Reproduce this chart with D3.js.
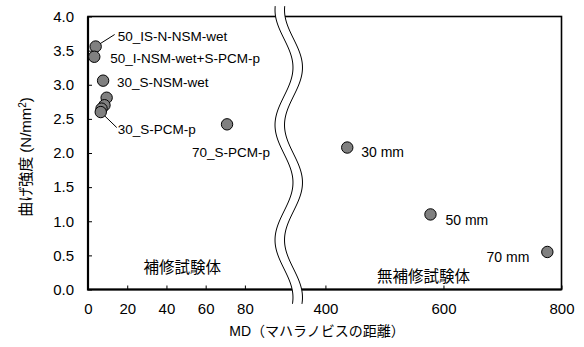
<!DOCTYPE html>
<html>
<head>
<meta charset="utf-8">
<script src="https://cdn.jsdelivr.net/npm/d3@7"></script>
<style>
  body { margin: 0; background: #fff; }
  svg text { font-family: "Liberation Sans", Arial, "Noto Sans CJK JP", sans-serif; fill: #000; }
</style>
</head>
<body>
<svg id="chart" width="584" height="347"></svg>
<script>
// 補修試験体 (repaired specimens)
const repairedMD = [3.9, 3.2, 7.7, 9.5, 8.4, 6.9, 6.5, 70.9];
const repairedStrength = [3.56, 3.41, 3.06, 2.81, 2.70, 2.65, 2.60, 2.42];
const repairedLabels = ["50_IS-N-NSM-wet", "50_I-NSM-wet+S-PCM-p", "30_S-NSM-wet", "", "", "", "30_S-PCM-p", "70_S-PCM-p"];

// 無補修試験体 (unrepaired specimens)
const unrepairedMD = [437, 578, 776];
const unrepairedStrength = [2.08, 1.10, 0.55];
const unrepairedLabels = ["30 mm", "50 mm", "70 mm"];

const xTicks = [0, 20, 40, 60, 80, 400, 600, 800];
const yTicks = [0, 0.5, 1, 1.5, 2, 2.5, 3, 3.5, 4];

const svg = d3.select("#chart");
const margin = {top: 16.5, right: 22.5, bottom: 57.5, left: 88};
const width = 584, height = 347;

// broken x axis: 0-103 on the left, 340-800 on the right
const x = d3.scaleLinear()
    .domain([0, 103, 340, 800])
    .range([margin.left, 290, 290, width - margin.right]);
const y = d3.scaleLinear()
    .domain([0, 4])
    .range([height - margin.bottom, margin.top]);

// label offsets (px) relative to the point
const repairedOffsets = [[22, -6], [16, 6], [14, 6], null, null, null, [17, 22], [-35, 33]];
const unrepairedOffsets = [[14, 9, "start"], [15, 11, "start"], [-18, 10.5, "end"]];

// axes
const xAxis = svg.append("g")
    .attr("transform", `translate(0,${y(0)})`)
    .call(d3.axisBottom(x).tickValues(xTicks).tickSizeInner(-4).tickSizeOuter(0).tickPadding(14));
const yAxis = svg.append("g")
    .attr("transform", `translate(${x(0)},0)`)
    .call(d3.axisLeft(y).tickValues(yTicks).tickFormat(d3.format(".1f")).tickSizeInner(-4).tickSizeOuter(0).tickPadding(14));
[xAxis, yAxis].forEach(a => {
    a.select(".domain").remove();
    a.selectAll("line").attr("stroke", "#000");
    a.selectAll("text").style("font-size", "15px").attr("fill", "#000");
});

// frame
svg.append("rect")
    .attr("x", x(0)).attr("y", y(4))
    .attr("width", x(800) - x(0)).attr("height", y(0) - y(4))
    .attr("fill", "none").attr("stroke", "#000").attr("stroke-width", 1.6);
svg.append("path")
    .attr("d", `M${x(0)},${y(4)}V${y(0)}H${x(800)}`)
    .attr("fill", "none").attr("stroke", "#000").attr("stroke-width", 2.2);

// leader lines
const leaders = [[0, 19, -12], [6, 16, 15.5]];
leaders.forEach(([i, lx, ly]) => {
    svg.append("line")
        .attr("x1", x(repairedMD[i])).attr("y1", y(repairedStrength[i]))
        .attr("x2", x(repairedMD[i]) + lx).attr("y2", y(repairedStrength[i]) + ly)
        .attr("stroke", "#000").attr("stroke-width", 1);
});

// points
const drawPoints = (xs, ys) => {
    svg.append("g").selectAll("circle")
        .data(xs)
        .join("circle")
        .attr("cx", d => x(d))
        .attr("cy", (d, i) => y(ys[i]))
        .attr("r", 5.7)
        .attr("fill", "#808080")
        .attr("stroke", "#000")
        .attr("stroke-width", 1);
};
drawPoints(repairedMD, repairedStrength);
drawPoints(unrepairedMD, unrepairedStrength);

// labels
repairedLabels.forEach((t, i) => {
    if (!t) return;
    const [dx, dy] = repairedOffsets[i];
    svg.append("text")
        .attr("x", x(repairedMD[i]) + dx)
        .attr("y", y(repairedStrength[i]) + dy)
        .style("font-size", "13.5px")
        .text(t);
});
unrepairedLabels.forEach((t, i) => {
    const [dx, dy, anchor] = unrepairedOffsets[i];
    svg.append("text")
        .attr("x", x(unrepairedMD[i]) + dx)
        .attr("y", y(unrepairedStrength[i]) + dy)
        .attr("text-anchor", anchor)
        .style("font-size", "14px")
        .text(t);
});

// group labels
svg.append("text")
    .attr("x", x(48)).attr("y", 273)
    .attr("text-anchor", "middle")
    .style("font-size", "15.5px")
    .text("補修試験体");
svg.append("text")
    .attr("x", x(566)).attr("y", 282)
    .attr("text-anchor", "middle")
    .style("font-size", "15.5px")
    .text("無補修試験体");

// wavy break mark
const wave = d3.range(6, 306, 2).map(v => [284 - 9 * Math.cos(2 * Math.PI * (v - 10) / 115), v]);
const gap = 9.5;
const band = wave.concat(wave.slice().reverse().map(([a, b]) => [a + gap, b]));
svg.append("path")
    .attr("d", "M" + band.map(p => p.join(",")).join("L") + "Z")
    .attr("fill", "#fff").attr("stroke", "none");
const line = d3.line().curve(d3.curveBasis);
svg.append("path").attr("d", line(wave))
    .attr("fill", "none").attr("stroke", "#000").attr("stroke-width", 1);
svg.append("path").attr("d", line(wave.map(([a, b]) => [a + gap, b])))
    .attr("fill", "none").attr("stroke", "#000").attr("stroke-width", 1);

// axis titles
svg.append("text")
    .attr("x", 317).attr("y", 336)
    .attr("text-anchor", "middle")
    .style("font-size", "14px")
    .text("MD（マハラノビスの距離）");
const yTitle = svg.append("text")
    .attr("transform", "translate(31,157) rotate(-90)")
    .attr("text-anchor", "middle")
    .style("font-size", "15px");
yTitle.append("tspan").text("曲げ強度 (N/mm");
yTitle.append("tspan").attr("baseline-shift", "super").style("font-size", "10px").text("2");
yTitle.append("tspan").text(")");
</script>
</body>
</html>
